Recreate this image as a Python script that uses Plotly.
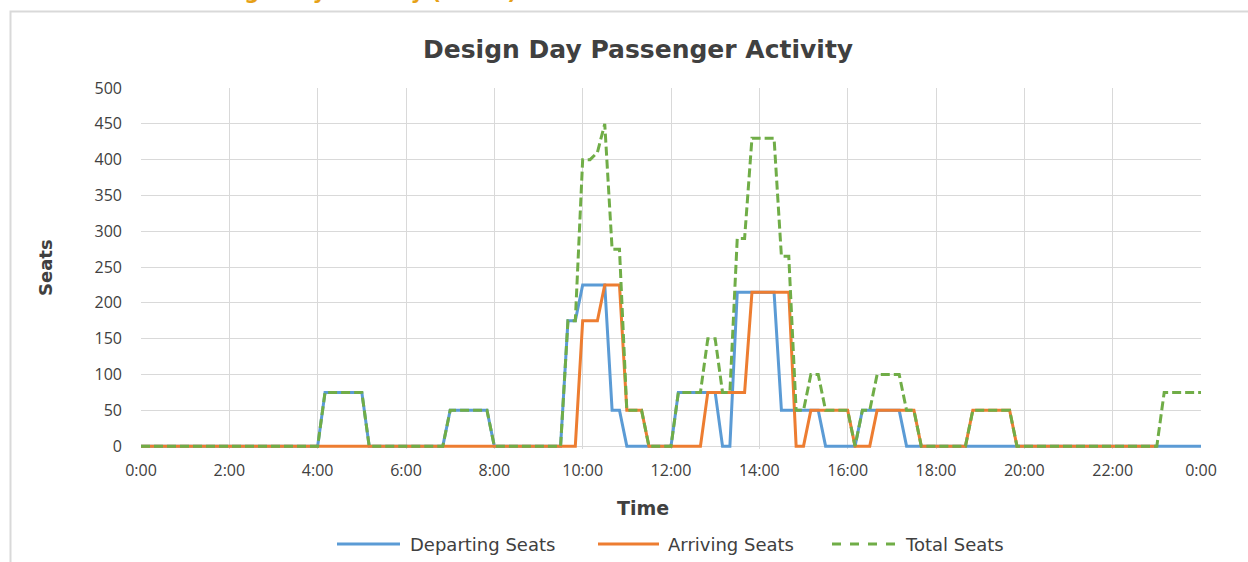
import plotly.graph_objects as go

# ---- data: breakpoints of each series (time of day, seats) ----
dep_times = ["0:00", "4:00", "4:10", "5:00", "5:10", "6:50", "7:00", "7:50", "8:00",
             "9:30", "9:40", "9:50", "10:00", "10:30", "10:40", "10:50", "11:00",
             "12:00", "12:10", "13:00", "13:10", "13:20", "13:30", "14:20", "14:30",
             "15:20", "15:30", "16:10", "16:20", "17:10", "17:20", "24:00"]
dep_seats = [0, 0, 75, 75, 0, 0, 50, 50, 0,
             0, 175, 175, 225, 225, 50, 50, 0,
             0, 75, 75, 0, 0, 215, 215, 50,
             50, 0, 0, 50, 50, 0, 0]

arr_times = ["0:00", "9:50", "10:00", "10:20", "10:30", "10:50", "11:00", "11:20", "11:30",
             "12:40", "12:50", "13:40", "13:50", "14:40", "14:50", "15:00", "15:10",
             "16:00", "16:10", "16:30", "16:40", "17:30", "17:40", "18:40", "18:50",
             "19:40", "19:50", "23:00"]
arr_seats = [0, 0, 175, 175, 225, 225, 50, 50, 0,
             0, 75, 75, 215, 215, 0, 0, 50,
             50, 0, 0, 50, 50, 0, 0, 50,
             50, 0, 0]

tot_times = ["0:00", "4:00", "4:10", "5:00", "5:10", "6:50", "7:00", "7:50", "8:00",
             "9:30", "9:40", "9:50", "10:00", "10:10", "10:20", "10:30", "10:40", "10:50",
             "11:00", "11:20", "11:30", "12:00", "12:10", "12:40", "12:50", "13:00",
             "13:10", "13:20", "13:30", "13:40", "13:50", "14:20", "14:30", "14:40",
             "14:50", "15:00", "15:10", "15:20", "15:30", "16:00", "16:10", "16:20",
             "16:30", "16:40", "17:10", "17:20", "17:30", "17:40", "18:40", "18:50",
             "19:40", "19:50", "23:00", "23:10", "24:00"]
tot_seats = [0, 0, 75, 75, 0, 0, 50, 50, 0,
             0, 175, 175, 400, 400, 410, 450, 275, 275,
             50, 50, 0, 0, 75, 75, 150, 150,
             75, 75, 290, 290, 430, 430, 265, 265,
             50, 50, 100, 100, 50, 50, 0, 50,
             50, 100, 100, 50, 50, 0, 0, 50,
             50, 0, 0, 75, 75]

tick_hours = [0, 2, 4, 6, 8, 10, 12, 14, 16, 18, 20, 22, 24]
tick_labels = ["0:00", "2:00", "4:00", "6:00", "8:00", "10:00", "12:00",
               "14:00", "16:00", "18:00", "20:00", "22:00", "0:00"]

BLUE = "#5B9BD5"
ORANGE = "#ED7D31"
GREEN = "#70AD47"
TEXT = "#404040"
GRID = "#D9D9D9"
TICK_FONT = "Open Sans"
LABEL_FONT = "DejaVu Sans"

W, H = 1248, 562
L, R, T, B = 141, 47, 88, 113
Y_MIN, Y_MAX = -4, 500


def to_hours(t):
    h, m = t.split(":")
    return int(h) + int(m) / 60.0


def px_x(px):
    return (px - L) / (W - L - R)


def px_y(py):
    return (H - B - py) / (H - T - B)


fig = go.Figure()
fig.add_trace(go.Scatter(x=[to_hours(t) for t in dep_times], y=dep_seats, mode="lines",
                         name="Departing Seats", line=dict(color=BLUE, width=3)))
fig.add_trace(go.Scatter(x=[to_hours(t) for t in arr_times], y=arr_seats, mode="lines",
                         name="Arriving Seats", line=dict(color=ORANGE, width=3)))
fig.add_trace(go.Scatter(x=[to_hours(t) for t in tot_times], y=tot_seats, mode="lines",
                         name="Total Seats", line=dict(color=GREEN, width=3, dash="9px,4px")))

# legend drawn by hand: line samples + labels
legend_items = [("Departing Seats", BLUE, "solid", 337, 400, 408),
                ("Arriving Seats", ORANGE, "solid", 598, 659, 666),
                ("Total Seats", GREEN, "dash", 832, 895, 903)]
shapes = []
annotations = []
LEG_Y = 544
for label, color, dash, x0, x1, tx in legend_items:
    shapes.append(dict(type="line", xref="paper", yref="paper",
                       x0=px_x(x0), x1=px_x(x1), y0=px_y(LEG_Y), y1=px_y(LEG_Y),
                       line=dict(color=color, width=3, dash=dash)))
    annotations.append(dict(text=label, xref="paper", yref="paper", x=px_x(tx), y=px_y(LEG_Y),
                            xanchor="left", yanchor="middle", showarrow=False,
                            font=dict(family=LABEL_FONT, size=18, color=TEXT)))

# chart frame
shapes.append(dict(type="rect", xref="paper", yref="paper", layer="below",
                   x0=px_x(10.5), x1=px_x(1260), y0=px_y(11.5), y1=px_y(600),
                   line=dict(color="#D9D9D9", width=2), fillcolor="rgba(0,0,0,0)"))

annotations += [
    dict(text="<b>Design Day Passenger Activity</b>", xref="paper", yref="paper",
         x=px_x(638), y=px_y(50), xanchor="center", yanchor="middle", showarrow=False,
         font=dict(family=LABEL_FONT, size=25, color=TEXT)),
    dict(text="<b>Time</b>", xref="paper", yref="paper", x=px_x(643), y=px_y(508),
         xanchor="center", yanchor="middle", showarrow=False,
         font=dict(family=LABEL_FONT, size=19, color=TEXT)),
    dict(text="<b>Seats</b>", xref="paper", yref="paper", x=px_x(45), y=px_y(268),
         xanchor="center", yanchor="middle", showarrow=False, textangle=-90,
         font=dict(family=LABEL_FONT, size=18, color=TEXT)),
    # page heading above the chart, mostly outside the visible page
    dict(text="<b>Design Day Activity (Seats)</b>", xref="paper", yref="paper",
         x=px_x(191), y=px_y(-7.5), xanchor="left", yanchor="middle", showarrow=False,
         font=dict(family=LABEL_FONT, size=21, color="#E6A117")),
]

fig.update_layout(
    width=W, height=H,
    margin=dict(l=L, r=R, t=T, b=B),
    paper_bgcolor="white", plot_bgcolor="white",
    showlegend=False,
    shapes=shapes, annotations=annotations,
    font=dict(family=TICK_FONT, size=16, color=TEXT),
)
fig.update_xaxes(range=[0, 24], tickvals=tick_hours, ticktext=tick_labels,
                 showgrid=True, gridcolor=GRID, gridwidth=1, zeroline=False,
                 showline=False, ticks="", ticklabelstandoff=10,
                 tickfont=dict(family=TICK_FONT, size=16, color=TEXT))
fig.update_yaxes(range=[Y_MIN, Y_MAX], tickvals=list(range(0, 501, 50)),
                 showgrid=True, gridcolor=GRID, gridwidth=1,
                 zeroline=True, zerolinecolor=GRID, zerolinewidth=1,
                 showline=False, ticks="", ticklabelstandoff=18,
                 tickfont=dict(family=TICK_FONT, size=16, color=TEXT))

fig.write_html("out.html")
